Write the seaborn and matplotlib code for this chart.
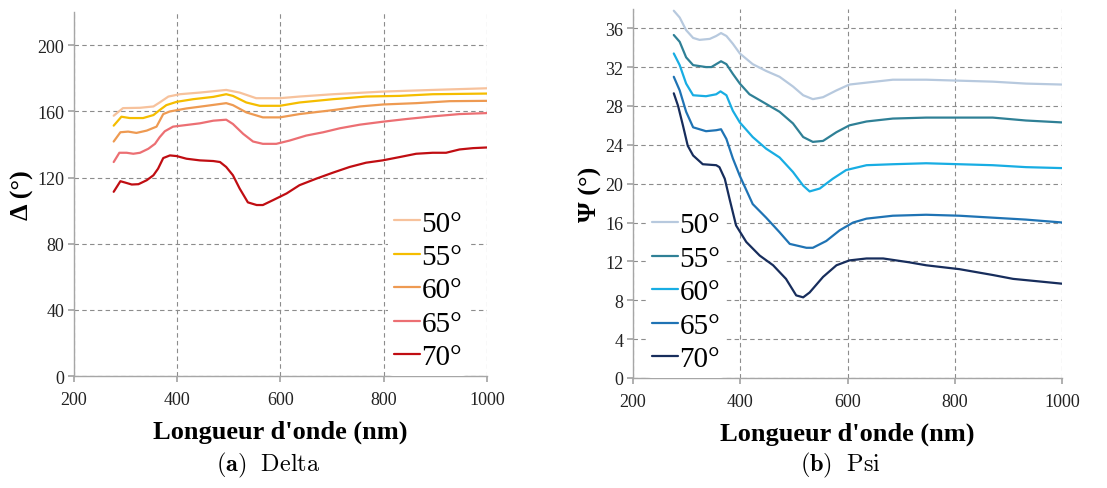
import matplotlib
matplotlib.use('Agg')
import matplotlib.pyplot as plt
import seaborn as sns
import pandas as pd

# angles of incidence
angles = ['50°', '55°', '60°', '65°', '70°']

# ---- Delta (left panel) ----
d50_x = [277, 295, 328, 354, 366, 383, 405, 444, 495, 521, 553, 599, 637, 702, 799, 895, 1000]
d50_y = [157.4, 162.0, 162.2, 163.0, 165.4, 169.0, 170.4, 171.4, 173.0, 171.4, 168.0, 168.0, 169.0, 170.4, 172.0, 173.0, 174.0]

d55_x = [277, 292, 308, 334, 354, 366, 379, 399, 431, 470, 495, 508, 534, 560, 599, 637, 702, 766, 831, 895, 1000]
d55_y = [151.4, 156.8, 156.0, 156.0, 157.8, 160.8, 163.8, 165.8, 167.4, 168.8, 170.4, 169.4, 165.4, 163.4, 163.4, 165.4, 167.4, 169.0, 169.4, 170.4, 170.8]

d60_x = [277, 290, 305, 321, 341, 360, 373, 386, 418, 457, 495, 508, 534, 566, 599, 637, 702, 754, 799, 863, 928, 1000]
d60_y = [141.8, 147.4, 147.8, 147.0, 148.4, 150.8, 158.4, 160.0, 161.8, 163.4, 165.0, 163.8, 159.4, 156.4, 156.4, 158.4, 160.8, 163.0, 164.2, 165.0, 166.2, 166.4]

d65_x = [277, 288, 302, 315, 328, 344, 357, 366, 376, 392, 418, 444, 470, 495, 508, 528, 547, 566, 592, 618, 650, 683, 715, 754, 799, 844, 895, 947, 1000]
d65_y = [129.4, 135.0, 135.0, 134.4, 135.0, 137.4, 140.4, 144.4, 148.0, 150.8, 151.8, 152.8, 154.4, 155.0, 152.4, 146.4, 141.8, 140.4, 140.4, 142.4, 145.4, 147.4, 149.8, 152.0, 153.8, 155.4, 157.0, 158.4, 159.0]

d70_x = [277, 290, 299, 312, 325, 341, 354, 363, 373, 386, 399, 418, 444, 470, 483, 495, 508, 521, 537, 554, 566, 586, 612, 637, 670, 702, 734, 766, 798, 831, 863, 895, 921, 947, 973, 1000]
d70_y = [111.4, 117.8, 117.0, 115.8, 116.0, 118.4, 121.4, 125.4, 131.8, 133.4, 133.0, 131.4, 130.4, 130.0, 129.4, 126.4, 121.4, 113.4, 105.0, 103.4, 103.4, 106.4, 110.4, 115.4, 119.4, 123.0, 126.4, 129.0, 130.4, 132.4, 134.4, 135.0, 135.0, 137.0, 137.8, 138.2]

# ---- Psi (right panel) ----
p50_x = [276, 287, 299, 312, 324, 343, 355, 364, 374, 386, 399, 423, 448, 473, 498, 517, 535, 554, 579, 603, 635, 684, 746, 808, 870, 932, 1000]
p50_y = [37.8, 37.1, 35.8, 35.0, 34.8, 34.9, 35.2, 35.5, 35.2, 34.4, 33.4, 32.3, 31.6, 31.0, 30.0, 29.1, 28.7, 28.9, 29.6, 30.2, 30.4, 30.7, 30.7, 30.6, 30.5, 30.3, 30.2]

p55_x = [276, 287, 299, 312, 336, 346, 355, 364, 374, 386, 399, 417, 442, 473, 498, 517, 535, 554, 579, 603, 635, 684, 746, 808, 870, 932, 1000]
p55_y = [35.3, 34.6, 33.0, 32.2, 32.0, 32.0, 32.3, 32.6, 32.3, 31.3, 30.3, 29.2, 28.4, 27.4, 26.2, 24.8, 24.3, 24.4, 25.3, 26.0, 26.4, 26.7, 26.8, 26.8, 26.8, 26.5, 26.3]

p60_x = [276, 287, 299, 312, 336, 355, 363, 374, 386, 399, 423, 448, 473, 498, 517, 529, 548, 572, 597, 635, 684, 746, 808, 870, 932, 1000]
p60_y = [33.4, 32.2, 30.3, 29.1, 29.0, 29.2, 29.5, 29.1, 27.5, 26.3, 24.8, 23.6, 22.7, 21.2, 19.8, 19.2, 19.5, 20.5, 21.4, 21.9, 22.0, 22.1, 22.0, 21.9, 21.7, 21.6]

p65_x = [276, 287, 299, 312, 336, 355, 364, 374, 386, 399, 423, 448, 473, 492, 523, 535, 560, 585, 610, 635, 684, 746, 808, 870, 932, 1000]
p65_y = [31.0, 29.6, 27.4, 25.8, 25.4, 25.5, 25.6, 24.6, 22.6, 20.8, 17.9, 16.5, 15.0, 13.8, 13.4, 13.4, 14.1, 15.2, 16.0, 16.4, 16.7, 16.8, 16.7, 16.5, 16.3, 16.0]

p70_x = [276, 284, 293, 302, 312, 330, 355, 361, 371, 380, 392, 411, 436, 461, 485, 504, 517, 529, 554, 579, 603, 635, 666, 715, 746, 808, 870, 908, 945, 1000]
p70_y = [29.3, 28.0, 26.0, 23.9, 22.9, 22.0, 21.9, 21.7, 20.5, 18.4, 15.7, 14.0, 12.6, 11.6, 10.2, 8.5, 8.3, 8.8, 10.4, 11.6, 12.1, 12.3, 12.3, 11.9, 11.6, 11.2, 10.6, 10.2, 10.0, 9.7]

delta_colors = ['#f7c29c', '#f5bd00', '#ee9a52', '#ec6f73', '#c00d12']
psi_colors = ['#b7c9de', '#2f8096', '#18ade3', '#1f73b4', '#172d5c']


def to_long(xs, ys):
    frames = []
    for a, x, y in zip(angles, xs, ys):
        frames.append(pd.DataFrame({'wl': x, 'val': y, 'angle': a}))
    return pd.concat(frames, ignore_index=True)


delta_df = to_long([d50_x, d55_x, d60_x, d65_x, d70_x], [d50_y, d55_y, d60_y, d65_y, d70_y])
psi_df = to_long([p50_x, p55_x, p60_x, p65_x, p70_x], [p50_y, p55_y, p60_y, p65_y, p70_y])

sns.set_theme(style='white')
plt.rcParams['font.family'] = ['Liberation Serif', 'DejaVu Serif']
plt.rcParams['mathtext.fontset'] = 'cm'
plt.rcParams['text.color'] = 'black'
plt.rcParams['axes.labelcolor'] = 'black'

fig = plt.figure(figsize=(11.07, 4.89), dpi=100)
ax1 = fig.add_axes([0.0668, 0.229, 0.373, 0.744])
ax2 = fig.add_axes([0.5718, 0.225, 0.388, 0.755])


def style_axis(ax, yticks, ylim, ylabel):
    ax.set_xlim(200, 1000)
    ax.set_ylim(*ylim)
    ax.set_xticks([200, 400, 600, 800, 1000])
    ax.set_yticks(yticks)
    ax.grid(True, linestyle=(0, (4, 3)), color='#8c8c8c', linewidth=0.8)
    for s in ['top', 'right']:
        ax.spines[s].set_visible(False)
    for s in ['left', 'bottom']:
        ax.spines[s].set_color('#a6a6a6')
        ax.spines[s].set_linewidth(1.0)
    ax.tick_params(axis='both', length=4, color='#a6a6a6', labelcolor='#222222', labelsize=13,
                   direction='out', left=True, bottom=True)
    ax.tick_params(axis='x', pad=7)
    ax.tick_params(axis='y', pad=3)
    ax.set_xlabel("Longueur d'onde (nm)", fontsize=19, fontweight='bold', labelpad=8)
    ax.set_ylabel(ylabel, fontsize=19, fontweight='bold', labelpad=2)
    ax.set_axisbelow(True)


sns.lineplot(data=delta_df, x='wl', y='val', hue='angle', palette=delta_colors,
             sort=False, estimator=None, linewidth=1.6, ax=ax1)
style_axis(ax1, [0, 40, 80, 120, 160, 200], (0, 220), 'Δ (°)')
ax1.legend(loc='lower right', bbox_to_anchor=(0.955, 0.0), fontsize=21, frameon=True,
           facecolor='white', edgecolor='none', framealpha=1, handlelength=0.9,
           handletextpad=0.05, labelspacing=0.24, borderpad=0.2, borderaxespad=0)

sns.lineplot(data=psi_df, x='wl', y='val', hue='angle', palette=psi_colors,
             sort=False, estimator=None, linewidth=1.6, ax=ax2)
style_axis(ax2, [0, 4, 8, 12, 16, 20, 24, 28, 32, 36], (0, 38), 'Ψ (°)')
ax2.legend(loc='lower left', bbox_to_anchor=(0.03, 0.0), fontsize=21, frameon=True,
           facecolor='white', edgecolor='none', framealpha=1, handlelength=0.9,
           handletextpad=0.05, labelspacing=0.24, borderpad=0.2, borderaxespad=0)

fig.text(0.242, 0.048, r'$\mathbf{(a)}\ \ \mathrm{Delta}$', ha='center', va='center', fontsize=17.5)
fig.text(0.759, 0.048, r'$\mathbf{(b)}\ \ \mathrm{Psi}$', ha='center', va='center', fontsize=17.5)

fig.savefig('out.png', dpi=100)
